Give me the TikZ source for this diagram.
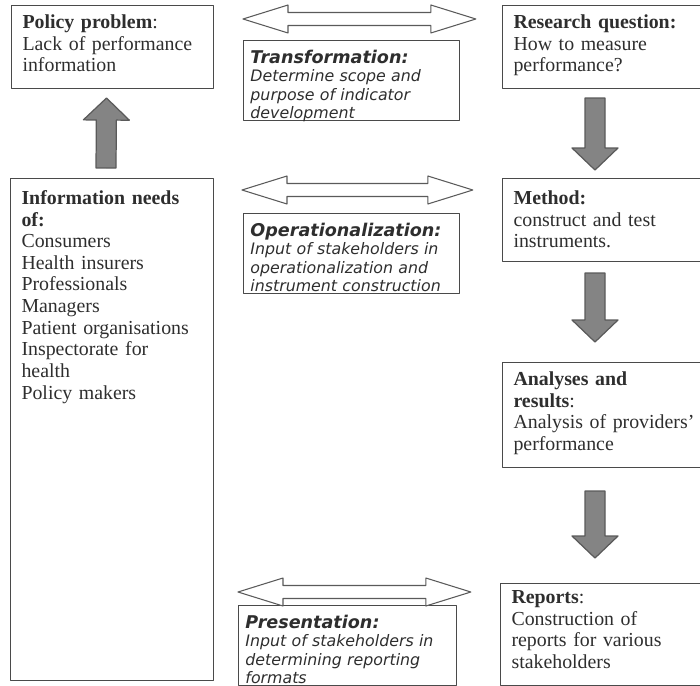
\documentclass[tikz,border=0pt]{standalone}
\usepackage{fontspec}
\setmainfont{Liberation Serif}
\newfontfamily\verdana{DejaVu Sans}
\usetikzlibrary{calc}

\definecolor{inkgray}{HTML}{2E2E2E}
\definecolor{linegray}{HTML}{4A4A4A}
\definecolor{fillgray}{HTML}{848484}
\definecolor{rimgray}{HTML}{5A5A5A}

% thick block arrow from #1 (tail) to #2 (tip)
\newcommand{\fatarrow}[2]{%
	\coordinate (ta) at #1;
	\coordinate (tb) at #2;
	\coordinate (hb) at ($(tb)!0.44cm!(ta)$);
	\draw[fatarrow] ($(ta)!0.2cm!90:(tb)$) -- ($(hb)!0.2cm!90:(tb)$) -- ($(hb)!0.46cm!90:(tb)$) -- (tb)
		-- ($(hb)!0.46cm!-90:(tb)$) -- ($(hb)!0.2cm!-90:(tb)$) -- ($(ta)!0.2cm!-90:(tb)$) -- cycle;
}
% hollow double arrow between #1 and #2
\newcommand{\twoway}[2]{%
	\coordinate (da) at #1;
	\coordinate (db) at #2;
	\coordinate (ha) at ($(da)!0.9cm!(db)$);
	\coordinate (hb) at ($(db)!0.9cm!(da)$);
	\draw[twoway] (da) -- ($(ha)!0.28cm!90:(db)$) -- ($(ha)!0.13cm!90:(db)$) -- ($(hb)!0.13cm!-90:(da)$) -- ($(hb)!0.28cm!-90:(da)$)
		-- (db) -- ($(hb)!0.28cm!90:(da)$) -- ($(hb)!0.13cm!90:(da)$) -- ($(ha)!0.13cm!-90:(db)$) -- ($(ha)!0.28cm!-90:(db)$) -- cycle;
}

\begin{document}
\begin{tikzpicture}[x=0.02cm, y=-0.02cm, line join=round,
		sbox/.style={draw=linegray, line width=0.6pt, anchor=north west, align=left, text=inkgray,
			inner xsep=0.22cm, inner ysep=0.1cm, text height=0.36cm,
			font=\fontsize{11.3}{12.3}\selectfont},
		ibox/.style={draw=linegray, line width=0.5pt, anchor=north west, align=left, text=inkgray,
			inner xsep=0.14cm, inner ysep=0.06cm, text height=0.4cm, text depth=1.08cm,
			font=\verdana\itshape\fontsize{9}{10.5}\selectfont},
		fatarrow/.style={draw=rimgray, fill=fillgray, line width=0.7pt},
		twoway/.style={draw=rimgray, fill=white, line width=0.6pt}]
	\useasboundingbox (0,0) rectangle (700,686);

	% left column
	\node[sbox, text width=3.6cm, text depth=1.1cm] (policy) at (11,5)
		{\textbf{Policy problem}:\\Lack of performance\\information};
	\node[sbox, text width=3.62cm, text height=0.42cm, text depth=9.42cm] (info) at (10,178)
		{\textbf{Information needs}\\\textbf{of:}\\Consumers\\Health insurers\\Professionals\\Managers\\Patient organisations\\Inspectorate for\\health\\Policy makers};

	% middle column
	\node[ibox, text width=4.04cm] (trans) at (243,40)
		{{\bfseries\fontsize{10}{10.5}\selectfont Transformation:}\\Determine scope and\\purpose of indicator\\development};
	\node[ibox, text width=4.04cm] (oper) at (243,213)
		{{\bfseries\fontsize{10}{10.5}\selectfont Operationalization:}\\Input of stakeholders in\\operationalization and\\instrument construction};
	\node[ibox, text width=4.08cm] (pres) at (238,605)
		{{\bfseries\fontsize{10}{10.5}\selectfont Presentation:}\\Input of stakeholders in\\determining reporting\\formats};

	% right column
	\node[sbox, text width=3.7cm, text depth=1.1cm] (research) at (502,5)
		{\textbf{Research question:}\\How to measure\\performance?};
	\node[sbox, text width=3.7cm, text height=0.42cm, text depth=1.04cm] (method) at (502,178)
		{\textbf{Method:}\\construct and test\\instruments.};
	\node[sbox, text width=3.7cm, text depth=1.54cm] (analyses) at (502,362)
		{\textbf{Analyses and}\\\textbf{results}:\\Analysis of providers'\\performance};
	\node[sbox, text width=3.7cm, text height=0.3cm, text depth=1.54cm] (reports) at (500,583)
		{\textbf{Reports}:\\Construction of\\reports for various\\stakeholders};

	% block arrows
	\fatarrow{($(info.north)+(-6,-10)$)}{($(policy.south)+(-6,9)$)}
	\fatarrow{($(research.south west)+(93,9)$)}{($(method.north west)+(93,-8)$)}
	\fatarrow{($(method.south west)+(93,11)$)}{($(analyses.north west)+(93,-20)$)}
	\fatarrow{($(analyses.south west)+(93,23)$)}{($(reports.north west)+(95,-25)$)}

	% double arrows
	\twoway{($(trans.north west)+(0,-21)$)}{($(trans.north east)+(16,-21)$)}
	\twoway{($(oper.north west)+(-1,-23)$)}{($(oper.north east)+(13,-23)$)}
	\twoway{($(pres.north west)+(0,-13)$)}{($(pres.north east)+(14,-13)$)}
\end{tikzpicture}
\end{document}
